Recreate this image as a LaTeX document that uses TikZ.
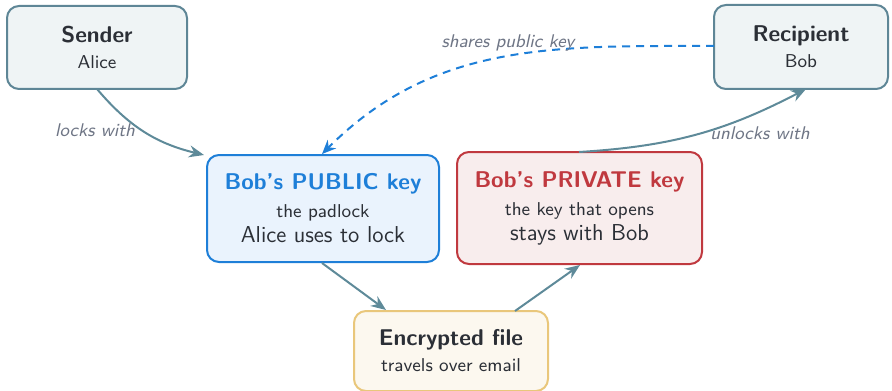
\documentclass[tikz,border=0pt]{standalone}
\usetikzlibrary{arrows.meta}
\definecolor{slateB}{HTML}{5E8696}
\definecolor{slateF}{HTML}{EFF4F5}
\definecolor{edgeC}{HTML}{5E8A99}
\definecolor{blueB}{HTML}{1E7FD8}
\definecolor{blueF}{HTML}{EAF3FD}
\definecolor{redB}{HTML}{C0393F}
\definecolor{redF}{HTML}{F8EDED}
\definecolor{goldB}{HTML}{E9C77B}
\definecolor{goldF}{HTML}{FCF8EF}
\definecolor{lblC}{HTML}{6E7585}
\definecolor{txtC}{HTML}{2B2F36}
\newcommand{\hdtxt}[1]{{\fontsize{11.4}{13}\selectfont\bfseries #1}}
\newcommand{\subtxt}[1]{{\fontsize{9.3}{11}\selectfont #1}}
\newcommand{\bigtxt}[1]{{\fontsize{11.5}{13}\selectfont #1}}
\tikzset{
  box/.style={draw=#1B, fill=#1F, line width=1pt, rounded corners=6pt, align=center, text=txtC, inner sep=0pt},
  flow/.style={draw=edgeC, line width=1pt, -{Stealth[length=7.5pt,width=6pt]}},
  share/.style={draw=blueB, line width=1pt, dash pattern=on 4pt off 3pt, -{Stealth[length=7pt,width=6pt]}},
  lbl/.style={text=lblC, font=\fontsize{9.2}{11}\selectfont\sffamily\itshape}
}
\begin{document}
\begin{tikzpicture}[x=0.5pt,y=-0.5pt,font=\sffamily]
\useasboundingbox (0,0) rectangle (892,390);
\node[box=slate, minimum width=90pt, minimum height=41.5pt] (sender) at (97,47.5) {\hdtxt{Sender}\\[1pt]\subtxt{Alice}};
\node[box=slate, minimum width=87pt, minimum height=42pt] (recip) at (801,47) {\hdtxt{Recipient}\\[1pt]\subtxt{Bob}};
\node[box=blue, minimum width=116pt, minimum height=53.5pt] (pub) at (323,208.5) {\textcolor{blueB}{\hdtxt{Bob's PUBLIC key}}\\[2pt]\subtxt{the padlock}\\[0.5pt]\bigtxt{Alice uses to lock}};
\node[box=red, minimum width=122.5pt, minimum height=56pt] (priv) at (579.5,208) {\textcolor{redB}{\hdtxt{Bob's PRIVATE key}}\\[2pt]\subtxt{the key that opens}\\[0.5pt]\bigtxt{stays with Bob}};
\node[box=gold, minimum width=97pt, minimum height=40pt] (enc) at (451,351) {\hdtxt{Encrypted file}\\[1pt]\subtxt{travels over email}};
\coordinate (pubNW) at (204,155);
\coordinate (senderS) at (97,89);
\coordinate (pubS) at (322,263);
\coordinate (encNW) at (386,310);
\coordinate (encNE) at (515,311);
\coordinate (privS) at (580,265);
\coordinate (privN) at (579,152);
\coordinate (recS) at (806,89);
\coordinate (recW) at (714,46);
\coordinate (pubN) at (322,154);
\draw[flow] (senderS) to[bend right=18] (pubNW);
\draw[flow] (pubS) -- (encNW);
\draw[flow] (encNE) -- (privS);
\draw[flow] (privN) to[bend right=12] (recS);
\draw[share] (recW) to[out=180,in=45] (pubN);
\node[lbl] (l1) at (95,130) {locks with};
\node[lbl] (l2) at (508,43) {shares public key};
\node[lbl] (l3) at (760,133) {unlocks with};
\end{tikzpicture}
\end{document}
